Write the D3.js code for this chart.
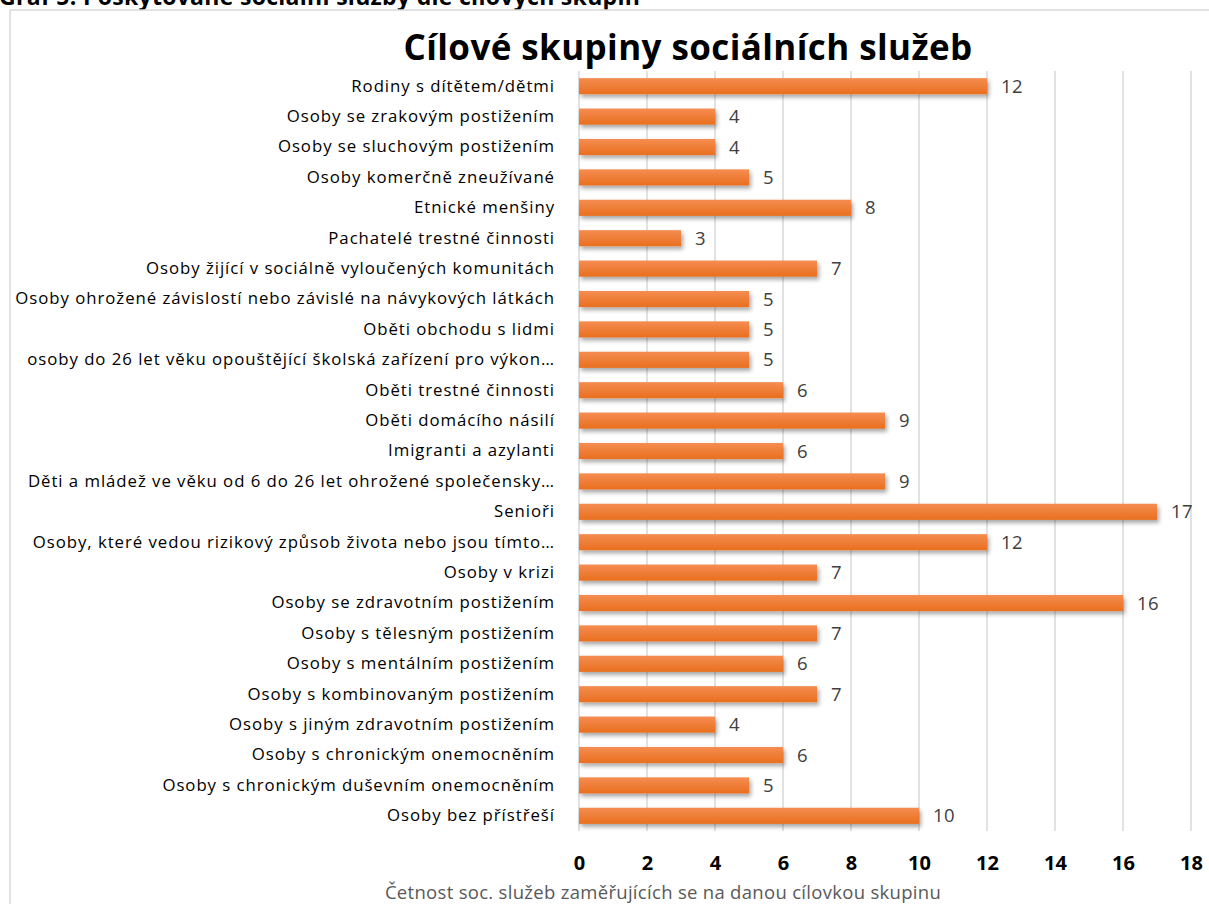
<!DOCTYPE html>
<html>
<head>
<meta charset="utf-8">
<script src="https://cdn.jsdelivr.net/npm/d3@7"></script>
<style>
  body { margin: 0; background: #fff; }
  svg { display: block; font-family: "Open Sans", sans-serif; }
</style>
</head>
<body>
<div id="chart"></div>
<script>
// data, top row first
var categories = [
  "Rodiny s dítětem/dětmi",
  "Osoby se zrakovým postižením",
  "Osoby se sluchovým postižením",
  "Osoby komerčně zneužívané",
  "Etnické menšiny",
  "Pachatelé trestné činnosti",
  "Osoby žijící v sociálně vyloučených komunitách",
  "Osoby ohrožené závislostí nebo závislé na návykových látkách",
  "Oběti obchodu s lidmi",
  "osoby do 26 let věku opouštějící školská zařízení pro výkon…",
  "Oběti trestné činnosti",
  "Oběti domácího násilí",
  "Imigranti a azylanti",
  "Děti a mládež ve věku od 6 do 26 let ohrožené společensky…",
  "Senioři",
  "Osoby, které vedou rizikový způsob života nebo jsou tímto…",
  "Osoby v krizi",
  "Osoby se zdravotním postižením",
  "Osoby s tělesným postižením",
  "Osoby s mentálním postižením",
  "Osoby s kombinovaným postižením",
  "Osoby s jiným zdravotním postižením",
  "Osoby s chronickým onemocněním",
  "Osoby s chronickým duševním onemocněním",
  "Osoby bez přístřeší"
]
var counts = [12, 4, 4, 5, 8, 3, 7, 5, 5, 5, 6, 9, 6, 9, 17, 12, 7, 16, 7, 6, 7, 4, 6, 5, 10]
var xTicks = [0, 2, 4, 6, 8, 10, 12, 14, 16, 18]

var svgWdth = 1209
var svgHt = 904
var margin = { top: 71, left: 579, right: 18, bottom: 73 }
var width = svgWdth - margin.left - margin.right
var height = svgHt - margin.top - margin.bottom

var svg = d3.select('#chart')
    .append('svg')
    .attr('width', svgWdth)
    .attr('height', svgHt)

// bar gradient + soft shadow like the office chart
var defs = svg.append('defs')
var grad = defs.append('linearGradient')
    .attr('id', 'barGrad').attr('x1', 0).attr('y1', 0).attr('x2', 0).attr('y2', 1)
grad.append('stop').attr('offset', '0%').attr('stop-color', '#f58d52')
grad.append('stop').attr('offset', '100%').attr('stop-color', '#e96f1e')
var shadow = defs.append('filter').attr('id', 'shadow')
    .attr('x', '-5%').attr('y', '-30%').attr('width', '115%').attr('height', '190%')
shadow.append('feDropShadow')
    .attr('dx', 2).attr('dy', 3).attr('stdDeviation', 2)
    .attr('flood-color', '#000').attr('flood-opacity', 0.35)

// caption cut off at the very top (as in the source)
svg.append('text')
    .attr('x', -1).attr('y', 5)
    .attr('font-weight', 'bold')
    .attr('font-size', 23)
    .attr('letter-spacing', 0.3)
    .attr('fill', '#000')
    .text('Graf 5: Poskytované sociální služby dle cílových skupin')

// chart frame
svg.append('rect')
    .attr('x', 10).attr('y', 10)
    .attr('width', 1250).attr('height', 950)
    .attr('fill', '#fff')
    .attr('stroke', '#d9d9d9')
    .attr('stroke-width', 1.5)

svg.append('text')
    .attr('x', 688).attr('y', 60)
    .attr('text-anchor', 'middle')
    .attr('font-weight', 'bold')
    .attr('font-size', 35)
    .attr('letter-spacing', 0.4)
    .attr('fill', '#000')
    .text('Cílové skupiny sociálních služeb')

var chartGroup = svg.append('g')
    .attr('transform', `translate(${margin.left}, ${margin.top})`)

var x = d3.scaleLinear().domain([0, 18]).range([0, width])
var y = d3.scaleBand().domain(categories).range([0, height]).paddingInner(0.47).paddingOuter(0.235)

// gridlines
chartGroup.append('g')
    .selectAll('line')
    .data(xTicks)
    .enter()
    .append('line')
    .attr('x1', d => x(d)).attr('x2', d => x(d))
    .attr('y1', 0).attr('y2', height)
    .attr('stroke', '#d9d9d9')
    .attr('stroke-width', 1.5)

// bottom axis: just the bold numbers
var bottomAxis = d3.axisBottom(x).tickValues(xTicks).tickSize(0).tickPadding(0)
var xAxis = chartGroup.append('g')
    .attr('transform', `translate(0, ${height + 39})`)
    .call(bottomAxis)
xAxis.select('.domain').remove()
xAxis.selectAll('text')
    .attr('font-family', '"Open Sans", sans-serif')
    .attr('font-size', 20)
    .attr('font-weight', 'bold')
    .attr('fill', '#000')
    .attr('dy', 0)

// left axis: category names
var leftAxis = d3.axisLeft(y).tickSize(0).tickPadding(24)
var yAxis = chartGroup.append('g').call(leftAxis)
yAxis.select('.domain').remove()
yAxis.selectAll('text')
    .attr('font-family', '"Open Sans", sans-serif')
    .attr('font-size', 16.8)
    .attr('letter-spacing', 0.95)
    .attr('fill', '#000')

var rows = categories.map((c, i) => ({ name: c, value: counts[i] }))

chartGroup.append('g')
    .selectAll('rect')
    .data(rows)
    .enter()
    .append('rect')
    .attr('x', x(0))
    .attr('y', d => y(d.name))
    .attr('width', d => x(d.value) - x(0))
    .attr('height', y.bandwidth())
    .attr('fill', 'url(#barGrad)')
    .attr('filter', 'url(#shadow)')

chartGroup.append('g')
    .selectAll('text')
    .data(rows)
    .enter()
    .append('text')
    .attr('x', d => x(d.value) + 14)
    .attr('y', d => y(d.name) + y.bandwidth() / 2)
    .attr('dy', '0.36em')
    .attr('font-size', 18.5)
    .attr('letter-spacing', 0.5)
    .attr('fill', '#404040')
    .text(d => d.value)

svg.append('text')
    .attr('x', 663).attr('y', 899)
    .attr('text-anchor', 'middle')
    .attr('font-size', 18.5)
    .attr('letter-spacing', 0.3)
    .attr('fill', '#595959')
    .text('Četnost soc. služeb zaměřujících se na danou cílovkou skupinu')
</script>
</body>
</html>
